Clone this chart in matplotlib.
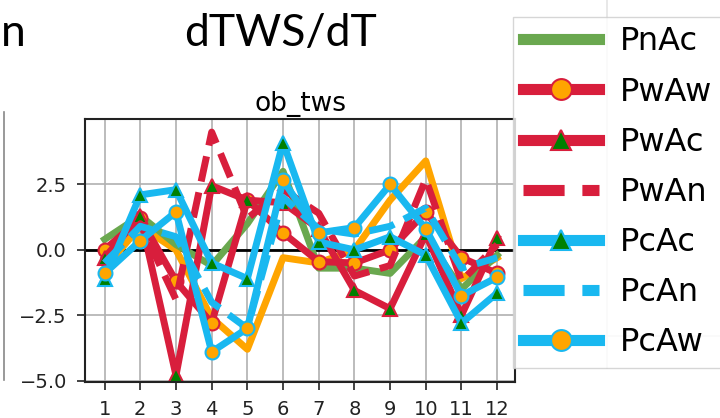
import numpy as np
import matplotlib
matplotlib.use('Agg')
import matplotlib.pyplot as plt
from matplotlib.lines import Line2D

months = [1, 2, 3, 4, 5, 6, 7, 8, 9, 10, 11, 12]

ob = [-0.7, 0.9, 0.0, -2.6, -3.8, -0.3, -0.5, 0.0, 1.9, 3.4, -1.1, -0.3]
pnac = [0.4, 1.3, 0.2, -0.6, 1.0, 3.0, -0.7, -0.7, -0.9, 0.5, -1.5, -0.2]
pwaw = [0.0, 1.2, -1.2, -2.8, 1.9, 0.65, -0.45, -0.5, 0.0, 1.45, -0.3, -0.9]
pwac = [-0.3, 1.3, -4.8, 2.45, 1.9, 1.8, 0.8, -1.55, -2.25, 0.6, -2.5, 0.45]
pwan = [-0.5, 1.0, -1.9, 4.5, 1.2, 2.3, 1.4, -1.0, -0.6, 2.7, -1.2, 0.2]
pcac = [-1.1, 2.1, 2.3, -0.5, -1.1, 4.1, 0.3, 0.0, 0.5, -0.2, -2.8, -1.65]
pcan = [-0.5, 0.9, 0.5, -2.0, -3.0, 2.0, 0.8, 0.6, 0.9, 1.6, -0.7, -0.3]
pcaw = [-0.9, 0.35, 1.45, -3.9, -3.0, 2.65, 0.65, 0.85, 2.5, 0.8, -1.75, -1.05]

red = '#d81e3c'
blue = '#19b8f0'
grn = '#6aa84f'
org = '#ffa500'
lw = 5

fig = plt.figure(figsize=(7.2, 4.18), dpi=100)
ax = fig.add_axes([85/720, 1-382/418, 430/720, 263/418])

ax.plot(months, ob, color=org, lw=lw)
ax.plot(months, pnac, color=grn, lw=lw, label='PnAc')
ax.plot(months, pwaw, color=red, lw=lw, marker='o', ms=10, mfc=org, mec=red, mew=1.5, label='PwAw')
ax.plot(months, pwac, color=red, lw=lw, marker='^', ms=10, mfc='green', mec=red, mew=1.5, label='PwAc')
ax.plot(months, pwan, color=red, lw=lw, ls='--', label='PwAn')
ax.plot(months, pcac, color=blue, lw=lw, marker='^', ms=10, mfc='green', mec=blue, mew=1.5, label='PcAc')
ax.plot(months, pcan, color=blue, lw=lw, ls='--', label='PcAn')
ax.plot(months, pcaw, color=blue, lw=lw, marker='o', ms=10, mfc=org, mec=blue, mew=1.5, label='PcAw')
ax.axhline(0, color='black', lw=2, zorder=1)

ax.set_xlim(0.45, 12.5)
ax.set_ylim(-5.05, 5.0)
ax.set_xticks(months)
ax.set_yticks([-5.0, -2.5, 0.0, 2.5])
ax.set_yticklabels(['\u22125.0', '\u22122.5', '0.0', '2.5'])
ax.tick_params(labelsize=14, length=6, width=1.2, pad=7, colors='#222222')
ax.grid(True, color='#b0b0b0', lw=1.2)
ax.set_axisbelow(True)
for s in ax.spines.values():
    s.set_color('#222222')
    s.set_linewidth(1.5)
ax.set_title('ob_tws', fontsize=19, pad=6)

# neighbour panels / slide text
fig.text(281/720, 1-33/418, 'dTWS/dT', fontsize=32, family='Lato', ha='center', va='center')
fig.text(1/720, 1-33/418, 'n', fontsize=32, family='Lato', ha='left', va='center')
fig.add_artist(Line2D([4/720, 4/720], [1-380/418, 1-112/418], color='#888888', lw=1.2))
fig.add_artist(Line2D([607/720, 607/720], [1-368/418, 1.0], color='#e4e4e4', lw=1.2))
fig.add_artist(Line2D([600/720, 1.0], [1-336/418, 1-336/418], color='#e4e4e4', lw=1.2))

leg = fig.legend(loc='lower left', bbox_to_anchor=(513/720, 1-368/418), fontsize=23,
                 handlelength=2.4, handletextpad=0.65, labelspacing=0.6, borderpad=0.3,
                 borderaxespad=0, framealpha=0.8, edgecolor='#cccccc', fancybox=False)
for h in leg.legend_handles:
    h.set_linewidth(8)
    h.set_markersize(15)

fig.savefig('out.png', dpi=100)
